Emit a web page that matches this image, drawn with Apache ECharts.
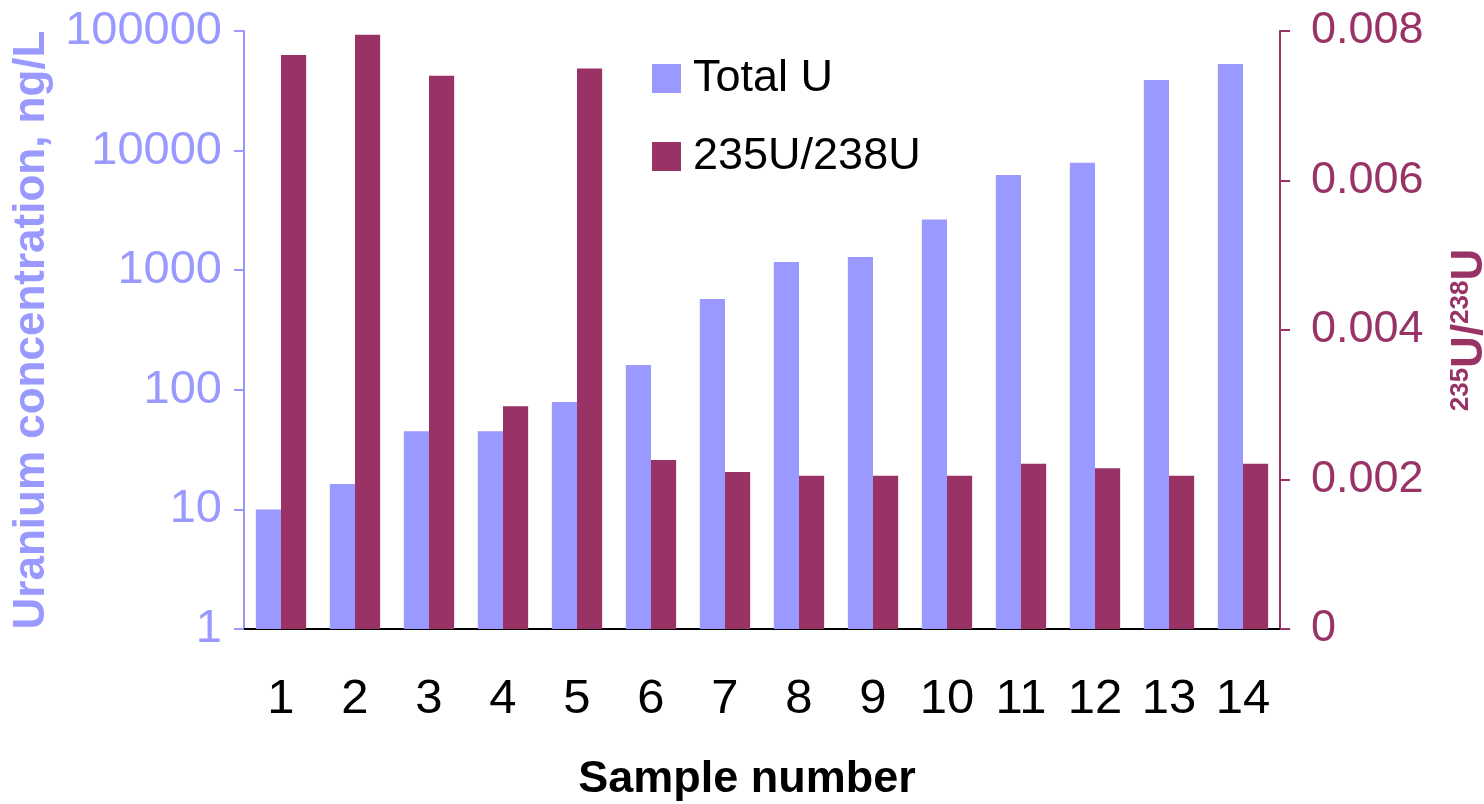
<!DOCTYPE html>
<html>
<head>
<meta charset="utf-8">
<script src="https://cdn.jsdelivr.net/npm/echarts@6/dist/echarts.min.js"></script>
<style>
  html, body { margin: 0; padding: 0; background: #ffffff; }
  #chart { width: 1484px; height: 804px; }
</style>
</head>
<body>
<div id="chart"></div>
<script>
// Sample numbers along the x axis
const samples = ['1', '2', '3', '4', '5', '6', '7', '8', '9', '10', '11', '12', '13', '14'];
// Total uranium concentration, ng/L (log scale, left axis)
const totalU = [10, 16.3, 45, 45, 79, 161, 574, 1170, 1290, 2650, 6250, 7900, 39000, 53000];
// 235U/238U isotope ratio (linear scale, right axis)
const ratio = [0.00768, 0.00795, 0.0074, 0.00298, 0.0075, 0.00226, 0.0021, 0.00205, 0.00205, 0.00205, 0.00221, 0.00215, 0.00205, 0.00221];
// Right-axis tick values
const ratioTicks = [0, 0.002, 0.004, 0.006, 0.008];

const BLUE = '#9999FF';
const WINE = '#993366';
const FONT = '"Liberation Sans", Arial, Helvetica, sans-serif';

const chart = echarts.init(document.getElementById('chart'), null, { renderer: 'canvas' });

chart.setOption({
  animation: false,
  backgroundColor: '#ffffff',
  textStyle: { fontFamily: FONT },
  grid: { left: 244, right: 204, top: 31, bottom: 175, containLabel: false, outerBoundsMode: 'none' },
  legend: {
    orient: 'vertical',
    left: 647,
    top: 51,
    itemWidth: 29,
    itemHeight: 29,
    itemGap: 33,
    icon: 'rect',
    textStyle: { fontSize: 45, color: '#000000', fontFamily: FONT, padding: [0, 0, 0, 7] },
    data: ['Total U', '235U/238U']
  },
  xAxis: {
    type: 'category',
    data: samples,
    name: 'Sample number',
    nameLocation: 'middle',
    nameGap: 128,
    nameTextStyle: { fontSize: 45, fontWeight: 'bold', color: '#000000', fontFamily: FONT, padding: [0, 30, 0, 0] },
    axisLine: { lineStyle: { color: '#000000', width: 2 } },
    axisTick: { show: false },
    axisLabel: { fontSize: 49, color: '#000000', margin: 46, fontFamily: FONT },
    splitLine: { show: false }
  },
  yAxis: [
    {
      type: 'log',
      logBase: 10,
      min: 1,
      max: 100000,
      position: 'left',
      name: 'Uranium concentration, ng/L',
      nameLocation: 'middle',
      nameRotate: 90,
      nameGap: 184,
      nameTextStyle: { fontSize: 44, fontWeight: 'bold', color: BLUE, fontFamily: FONT },
      axisLine: { show: true, lineStyle: { color: BLUE, width: 2 } },
      axisTick: { show: true, inside: false, length: 10, lineStyle: { color: BLUE, width: 2 } },
      axisLabel: {
        fontSize: 47, color: BLUE, margin: 22, fontFamily: FONT,
        formatter: v => String(Math.round(v))
      },
      splitLine: { show: false }
    },
    {
      type: 'value',
      min: ratioTicks[0],
      max: ratioTicks[ratioTicks.length - 1],
      interval: ratioTicks[1] - ratioTicks[0],
      position: 'right',
      name: '{s|235}{b|U/}{s|238}{b|U}',
      nameLocation: 'middle',
      nameRotate: 90,
      nameGap: 168,
      nameTextStyle: {
        color: WINE,
        rich: {
          s: { fontSize: 26, fontWeight: 'bold', color: WINE, fontFamily: FONT, verticalAlign: 'top', lineHeight: 44 },
          b: { fontSize: 44, fontWeight: 'bold', color: WINE, fontFamily: FONT, lineHeight: 44 }
        }
      },
      axisLine: { show: true, lineStyle: { color: WINE, width: 2 } },
      axisTick: { show: true, inside: false, length: 10, lineStyle: { color: WINE, width: 2 } },
      axisLabel: {
        fontSize: 45, color: WINE, margin: 31, fontFamily: FONT,
        formatter: v => (v === 0 ? '0' : v.toFixed(3))
      },
      splitLine: { show: false }
    }
  ],
  series: [
    {
      name: 'Total U',
      type: 'bar',
      yAxisIndex: 0,
      data: totalU,
      barGap: '0%',
      barCategoryGap: '32%',
      itemStyle: { color: BLUE }
    },
    {
      name: '235U/238U',
      type: 'bar',
      yAxisIndex: 1,
      data: ratio,
      barGap: '0%',
      barCategoryGap: '32%',
      itemStyle: { color: WINE }
    }
  ]
});
</script>
</body>
</html>
